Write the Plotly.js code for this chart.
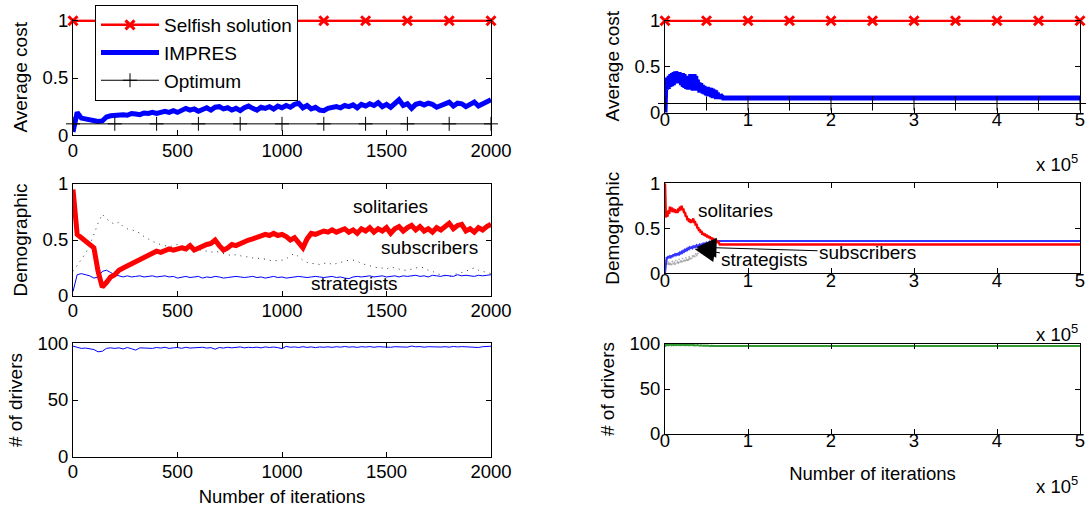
<!DOCTYPE html>
<html>
<head>
<meta charset="utf-8">
<script src="https://cdn.plot.ly/plotly-3.0.1.min.js"></script>
<style>html,body{margin:0;padding:0;background:#fff;}#chart{width:1086px;height:510px;}</style>
</head>
<body>
<div id="chart"></div>
<script>
// ---------------- data: left column (0..2000 iterations, sampled every 20) ----------------
const leftStep = 20;
const markerItersLeft = [0,200,400,600,800,1000,1200,1400,1600,1800,2000];
const selfishLeft = [1,1,1,1,1,1,1,1,1,1,1];
const optimumLeft = [0.1,0.1,0.1,0.1,0.1,0.1,0.1,0.1,0.1,0.1,0.1];
const impresLeft = [
 0.03,0.20,0.15,0.14,0.135,0.13,0.12,0.125,0.16,0.17,
 0.175,0.17,0.18,0.175,0.19,0.185,0.18,0.195,0.19,0.20,
 0.19,0.20,0.21,0.20,0.215,0.20,0.22,0.235,0.22,0.23,
 0.21,0.225,0.24,0.22,0.245,0.25,0.23,0.24,0.22,0.235,
 0.215,0.24,0.255,0.235,0.22,0.245,0.235,0.25,0.23,0.255,
 0.24,0.26,0.245,0.27,0.28,0.24,0.26,0.23,0.245,0.22,
 0.215,0.235,0.245,0.25,0.24,0.26,0.25,0.265,0.24,0.27,
 0.255,0.275,0.26,0.285,0.25,0.27,0.245,0.28,0.31,0.26,
 0.275,0.235,0.27,0.28,0.265,0.28,0.27,0.245,0.26,0.28,
 0.29,0.255,0.28,0.275,0.25,0.27,0.29,0.255,0.27,0.29,
 0.31];
const solitariesLeft = [
 0.95,0.55,0.52,0.49,0.46,0.43,0.22,0.08,0.12,0.17,
 0.19,0.23,0.25,0.27,0.29,0.31,0.33,0.35,0.37,0.39,
 0.40,0.39,0.41,0.42,0.41,0.42,0.43,0.42,0.45,0.41,
 0.43,0.44,0.46,0.47,0.50,0.45,0.41,0.43,0.46,0.45,
 0.47,0.49,0.50,0.51,0.52,0.53,0.55,0.54,0.56,0.54,
 0.55,0.53,0.50,0.52,0.48,0.43,0.51,0.56,0.55,0.57,
 0.58,0.57,0.59,0.57,0.58,0.60,0.57,0.59,0.56,0.60,
 0.58,0.61,0.57,0.60,0.58,0.61,0.56,0.60,0.62,0.58,
 0.61,0.63,0.59,0.62,0.58,0.60,0.57,0.61,0.59,0.62,
 0.65,0.60,0.63,0.64,0.58,0.60,0.57,0.61,0.59,0.62,
 0.64];
const subscribersLeft = [
 0.22,0.27,0.33,0.38,0.45,0.55,0.65,0.73,0.69,0.66,
 0.64,0.66,0.62,0.60,0.59,0.58,0.56,0.53,0.51,0.49,
 0.47,0.46,0.45,0.44,0.45,0.46,0.45,0.44,0.43,0.42,
 0.41,0.41,0.40,0.39,0.40,0.39,0.38,0.37,0.36,0.37,
 0.36,0.35,0.35,0.34,0.34,0.33,0.33,0.32,0.31,0.32,
 0.32,0.33,0.36,0.38,0.35,0.32,0.30,0.29,0.29,0.28,
 0.29,0.30,0.28,0.29,0.30,0.31,0.32,0.32,0.31,0.29,
 0.28,0.27,0.26,0.25,0.25,0.24,0.26,0.25,0.24,0.23,
 0.23,0.24,0.25,0.26,0.25,0.23,0.22,0.20,0.19,0.18,
 0.17,0.19,0.20,0.21,0.22,0.24,0.25,0.23,0.22,0.21,
 0.20];
const strategistsLeft = [
 0.04,0.19,0.20,0.19,0.18,0.16,0.17,0.22,0.23,0.21,
 0.19,0.18,0.17,0.18,0.17,0.175,0.18,0.17,0.175,0.18,
 0.17,0.175,0.18,0.17,0.175,0.16,0.17,0.175,0.165,0.17,
 0.175,0.16,0.17,0.165,0.175,0.17,0.16,0.165,0.17,0.175,
 0.17,0.165,0.17,0.175,0.165,0.17,0.16,0.17,0.175,0.165,
 0.17,0.16,0.165,0.17,0.175,0.17,0.165,0.17,0.175,0.17,
 0.165,0.17,0.175,0.165,0.17,0.16,0.155,0.17,0.175,0.17,
 0.175,0.18,0.17,0.175,0.18,0.17,0.175,0.18,0.17,0.18,
 0.175,0.18,0.185,0.175,0.18,0.17,0.185,0.18,0.175,0.185,
 0.18,0.175,0.19,0.18,0.185,0.18,0.175,0.185,0.18,0.185,
 0.19];
const driversLeft = [
 97.5,96.5,95.5,95.8,95,94.5,92.5,93,95.5,96,
 95.5,96,95,96.3,95.2,94,96,95.8,96.2,95.5,
 96.3,95.8,96.5,95.5,96,96.3,95.6,96.5,95.8,96.2,
 96,96.5,95.8,96.2,94.8,96.3,95.8,96.5,96,96.3,
 96.8,96,96.5,96.2,96.6,96,96.8,96.3,96.7,96.2,
 95.3,97.3,96.5,96.8,96.3,97,96.4,96.8,96.2,96.8,
 96.5,96.9,96.4,97,96.6,97.2,96.6,96.9,96.4,97,
 96.7,97.1,96.5,97,96.7,96.9,96.5,97,96.8,97.1,
 96.6,97.6,96.9,97.1,96.6,97,96.8,97.2,96.7,97,
 96.6,97.2,96.8,97.1,96.9,97.2,96.7,96.3,97,97.2,
 97.4];

// ---------------- data: right column (0..5e5 iterations) ----------------
const rightStep = 1000;            // early transient sampled every 1000 iterations
const markerItersRight = [0,50000,100000,150000,200000,250000,300000,350000,400000,450000,500000];
const selfishRight = [1,1,1,1,1,1,1,1,1,1,1];
const optimumRight = [0.1,0.1,0.1,0.1,0.1,0.1,0.1,0.1,0.1,0.1,0.1];
const tailIters = [71000,100000,200000,300000,400000,500000];
const impresRightEarly = [
 0.0,0.33,0.25,0.38,0.26,0.40,0.28,0.42,0.29,0.43,
 0.30,0.44,0.32,0.45,0.33,0.44,0.34,0.44,0.32,0.43,
 0.30,0.43,0.28,0.42,0.27,0.40,0.26,0.39,0.25,0.40,
 0.26,0.42,0.26,0.41,0.24,0.42,0.24,0.40,0.24,0.36,
 0.24,0.33,0.22,0.32,0.22,0.30,0.21,0.29,0.20,0.28,
 0.19,0.28,0.18,0.27,0.18,0.27,0.17,0.26,0.16,0.25,
 0.16,0.24,0.15,0.22,0.15,0.20,0.15,0.18,0.155,0.17,
 0.16];
const impresRightTail = [0.16,0.16,0.16,0.16,0.16,0.16];
const solitariesRightEarly = [
 1.00,0.62,0.66,0.63,0.70,0.66,0.74,0.69,0.73,0.68,
 0.72,0.68,0.71,0.67,0.70,0.67,0.72,0.69,0.74,0.70,
 0.75,0.70,0.72,0.67,0.68,0.63,0.64,0.59,0.61,0.57,
 0.60,0.56,0.59,0.57,0.61,0.56,0.58,0.53,0.55,0.50,
 0.51,0.47,0.49,0.45,0.47,0.43,0.45,0.42,0.44,0.41,
 0.43,0.40,0.42,0.39,0.41,0.38,0.40,0.37,0.39,0.36,
 0.38,0.35,0.37,0.34,0.35,0.33,0.32,0.32,0.32,0.32,
 0.32];
const solitariesRightTail = [0.32,0.32,0.32,0.32,0.32,0.32];
const strategistsRightEarly = [
 0.00,0.16,0.18,0.17,0.19,0.17,0.19,0.18,0.20,0.18,
 0.21,0.19,0.21,0.20,0.22,0.20,0.22,0.21,0.23,0.22,
 0.24,0.23,0.25,0.24,0.26,0.25,0.27,0.26,0.28,0.27,
 0.29,0.28,0.29,0.28,0.30,0.29,0.30,0.29,0.31,0.30,
 0.31,0.30,0.32,0.31,0.32,0.31,0.33,0.32,0.33,0.32,
 0.34,0.33,0.34,0.33,0.35,0.34,0.35,0.34,0.35,0.35,
 0.36,0.35,0.36,0.35,0.36,0.36,0.36,0.36,0.36,0.36,
 0.36];
const strategistsRightTail = [0.36,0.36,0.36,0.36,0.36,0.36];
const subscribersRightEarly = [
 0.00,0.15,0.10,0.14,0.09,0.13,0.08,0.12,0.09,0.14,
 0.10,0.13,0.09,0.15,0.11,0.14,0.10,0.16,0.12,0.15,
 0.11,0.17,0.13,0.16,0.12,0.18,0.14,0.17,0.13,0.19,
 0.15,0.18,0.16,0.20,0.17,0.21,0.18,0.22,0.19,0.23,
 0.21];
const driversRightEarly = [
 97.0,99.0,98.5,99.5,98.6,99.4,98.8,99.6,98.7,99.3,
 98.6,99.5,98.8,99.4,98.7,99.6,98.9,99.3,98.6,99.5,
 98.8,99.4,98.7,99.2,98.6,99.3,98.8,99.1,98.5,99.2,
 98.7,99.0,98.6,99.1,98.5,99.0,98.4,98.9,98.5,98.8,
 98.3,98.7,98.2,98.6,98.2,98.5,98.1,98.4,98.0,98.3,
 98.0,98.2,97.9,98.1,97.9,98.0,97.8,98.0,97.8,97.9,
 97.8];
const driversRightTail = [97.8,97.8,97.8,97.8,97.8,97.8];

// tick labels
const leftTicks = [0,500,1000,1500,2000];
const rightTicks = [0,100000,200000,300000,400000,500000];
const rightTickText = ['0','1','2','3','4','5'];

// ---------------- build ----------------
const idx = (arr, step) => arr.map((_, i) => i * step);
const FONT = 'Liberation Sans, Arial, Helvetica, sans-serif';
const RED = '#ff0000', BLUE = '#0000ff', GREEN = '#008000';
const TXT = 19, TICK = 18.5;

const traces = [
  // top-left
  {x: idx(impresLeft, leftStep), y: impresLeft, xaxis:'x', yaxis:'y', mode:'lines', name:'IMPRES',
   line:{color:BLUE, width:5}, legendgroup:'b', legendrank:2},
  {x: markerItersLeft, y: optimumLeft, xaxis:'x', yaxis:'y', mode:'lines+markers', name:'Optimum',
   line:{color:'#000', width:1}, marker:{symbol:'cross-thin-open', size:10, color:'#000', line:{width:1, color:'#000'}},
   cliponaxis:false, legendgroup:'c', legendrank:3},
  {x: markerItersLeft, y: selfishLeft, xaxis:'x', yaxis:'y', mode:'lines+markers', name:'Selfish solution',
   line:{color:RED, width:2.5}, marker:{symbol:'x-thin-open', size:9, color:RED, line:{width:3, color:RED}},
   cliponaxis:false, legendgroup:'a', legendrank:1},
  // middle-left
  {x: idx(subscribersLeft, leftStep), y: subscribersLeft, xaxis:'x2', yaxis:'y2', mode:'lines', showlegend:false,
   line:{color:'#333', width:1, dash:'1px,5px'}},
  {x: idx(strategistsLeft, leftStep), y: strategistsLeft, xaxis:'x2', yaxis:'y2', mode:'lines', showlegend:false,
   line:{color:BLUE, width:1}},
  {x: idx(solitariesLeft, leftStep), y: solitariesLeft, xaxis:'x2', yaxis:'y2', mode:'lines', showlegend:false,
   line:{color:RED, width:5}},
  // bottom-left
  {x: idx(driversLeft, leftStep), y: driversLeft, xaxis:'x3', yaxis:'y3', mode:'lines', showlegend:false,
   line:{color:BLUE, width:1}},
  // top-right
  {x: idx(impresRightEarly, rightStep).concat(tailIters), y: impresRightEarly.concat(impresRightTail),
   xaxis:'x4', yaxis:'y4', mode:'lines', showlegend:false, line:{color:BLUE, width:5}},
  {x: markerItersRight, y: optimumRight, xaxis:'x4', yaxis:'y4', mode:'lines+markers', showlegend:false,
   line:{color:'#000', width:1}, marker:{symbol:'cross-thin-open', size:10, color:'#000', line:{width:1, color:'#000'}}, cliponaxis:false},
  {x: markerItersRight, y: selfishRight, xaxis:'x4', yaxis:'y4', mode:'lines+markers', showlegend:false,
   line:{color:RED, width:2.5}, marker:{symbol:'x-thin-open', size:9, color:RED, line:{width:3, color:RED}}, cliponaxis:false},
  // middle-right
  {x: idx(subscribersRightEarly, rightStep), y: subscribersRightEarly, xaxis:'x5', yaxis:'y5', mode:'lines', showlegend:false,
   line:{color:'#aaaaaa', width:1.5, dash:'2px,2px'}},
  {x: idx(strategistsRightEarly, rightStep).concat(tailIters), y: strategistsRightEarly.concat(strategistsRightTail),
   xaxis:'x5', yaxis:'y5', mode:'lines', showlegend:false, line:{color:'#3333ff', width:2}},
  {x: idx(solitariesRightEarly, rightStep).concat(tailIters), y: solitariesRightEarly.concat(solitariesRightTail),
   xaxis:'x5', yaxis:'y5', mode:'lines', showlegend:false, line:{color:RED, width:2.5}},
  // bottom-right
  {x: idx(driversRightEarly, rightStep).concat(tailIters), y: driversRightEarly.concat(driversRightTail),
   xaxis:'x6', yaxis:'y6', mode:'lines', showlegend:false, line:{color:GREEN, width:2}, opacity:0.8}
];

const W = 1086, H = 510;
const px = (a, b) => [a / W, b / W];
const py = (top, bottom) => [(H - bottom) / H, (H - top) / H];
const LX = px(73, 491), RX = px(665, 1080);

function ax(extra) {
  return Object.assign({
    showline:true, linecolor:'#000', linewidth:1, mirror:'ticks',
    ticks:'inside', ticklen:5, tickwidth:1, tickcolor:'#000',
    showgrid:false, zeroline:false, fixedrange:true,
    tickfont:{family:FONT, size:TICK, color:'#000'}
  }, extra);
}
const ytitle = (t) => ({text:t, font:{family:FONT, size:TXT, color:'#000'}, standoff:9});
const xtitle = (t, s) => ({text:t, font:{family:FONT, size:TICK, color:'#000'}, standoff:s});
const ann = (xr, yr, x, y, t) => ({xref:xr, yref:yr, x:x, y:y, text:t, showarrow:false, font:{family:FONT, size:TXT, color:'#000'}});
const TOP = 1.012;   // keeps the y=1 line fully visible at the top edge

const layout = {
  width:W, height:H, margin:{l:0,r:0,t:0,b:0}, paper_bgcolor:'#fff', plot_bgcolor:'#fff',
  font:{family:FONT, size:TXT, color:'#000'},
  showlegend:true,
  legend:{x:95/W, y:(H-5)/H, xanchor:'left', yanchor:'top', bgcolor:'#fff', bordercolor:'#000', borderwidth:1,
          font:{family:FONT, size:TXT, color:'#000'}, itemwidth:58, tracegroupgap:2, traceorder:'normal'},
  xaxis: ax({domain:LX, anchor:'y', range:[0,2000], tickvals:leftTicks, mirror:false, ticklabelstandoff:-2}),
  yaxis: ax({domain:py(20.7-1.375,135.3), anchor:'x', range:[0,TOP], tickvals:[0,0.5,1], ticktext:['0','0.5','1'], title:ytitle('Average cost')}),
  xaxis2: ax({domain:LX, anchor:'y2', range:[0,2000], tickvals:leftTicks, ticklabelstandoff:-2}),
  yaxis2: ax({domain:py(184,296), anchor:'x2', range:[0,1], tickvals:[0,0.5,1], ticktext:['0','0.5','1'], title:ytitle('Demographic')}),
  xaxis3: ax({domain:LX, anchor:'y3', range:[0,2000], tickvals:leftTicks, ticklabelstandoff:-2, title:xtitle('Number of iterations', 9)}),
  yaxis3: ax({domain:py(343.3,456.7), anchor:'x3', range:[0,100], tickvals:[0,50,100], title:ytitle('# of drivers')}),
  xaxis4: ax({domain:RX, anchor:'y4', range:[0,500000], tickvals:rightTicks, ticktext:rightTickText, mirror:false, ticklabelstandoff:-10}),
  yaxis4: ax({domain:py(20.7-1.1,112.7), anchor:'x4', range:[0,TOP], tickvals:[0,0.5,1], ticktext:['0','0.5','1'], title:ytitle('Average cost')}),
  xaxis5: ax({domain:RX, anchor:'y5', range:[0,500000], tickvals:rightTicks, ticktext:rightTickText, ticklabelstandoff:-10}),
  yaxis5: ax({domain:py(183.3,273.3), anchor:'x5', range:[0,1], tickvals:[0,0.5,1], ticktext:['0','0.5','1'], title:ytitle('Demographic')}),
  xaxis6: ax({domain:RX, anchor:'y6', range:[0,500000], tickvals:rightTicks, ticktext:rightTickText, ticklabelstandoff:-10, title:xtitle('Number of iterations', 16)}),
  yaxis6: ax({domain:py(344,434), anchor:'x6', range:[0,100], tickvals:[0,50,100], title:ytitle('# of drivers')}),
  annotations: [
    ann('x2','y2', 1517, 0.80, 'solitaries'),
    ann('x2','y2', 1705, 0.43, 'subscribers'),
    ann('x2','y2', 1349, 0.11, 'strategists'),
    ann('x5','y5', 85500, 0.70, 'solitaries'),
    {xref:'x5', yref:'y5', x:38000, y:0.29, text:'subscribers', showarrow:true, ax:171, ay:5,
     arrowhead:2, arrowsize:4, arrowwidth:1, arrowcolor:'#000', font:{family:FONT,size:TXT,color:'#000'}},
    {xref:'x5', yref:'y5', x:36000, y:0.267, text:'strategists', showarrow:true, ax:70, ay:10,
     arrowhead:2, arrowsize:4, arrowwidth:1, arrowcolor:'#000', font:{family:FONT,size:TXT,color:'#000'}},
    {xref:'paper', yref:'paper', x:1080/W, y:(H-163)/H, xanchor:'right', yanchor:'middle', text:'x 10<sup>5</sup>', showarrow:false, font:{family:FONT,size:TICK,color:'#000'}},
    {xref:'paper', yref:'paper', x:1080/W, y:(H-333)/H, xanchor:'right', yanchor:'middle', text:'x 10<sup>5</sup>', showarrow:false, font:{family:FONT,size:TICK,color:'#000'}},
    {xref:'paper', yref:'paper', x:1080/W, y:(H-485)/H, xanchor:'right', yanchor:'middle', text:'x 10<sup>5</sup>', showarrow:false, font:{family:FONT,size:TICK,color:'#000'}}
  ]
};

Plotly.newPlot('chart', traces, layout, {displayModeBar:false, staticPlot:true});
</script>
</body>
</html>
